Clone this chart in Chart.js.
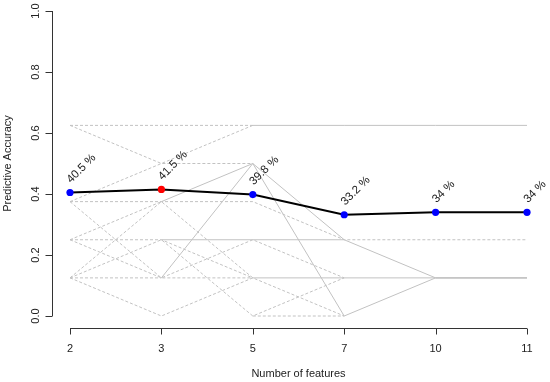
<!DOCTYPE html>
<html>
<head>
<meta charset="utf-8">
<script src="https://cdn.jsdelivr.net/npm/chart.js@4/dist/chart.umd.min.js"></script>
<style>
  html, body { margin: 0; padding: 0; background: #fff; }
  #wrap { width: 550px; height: 382px; }
</style>
</head>
<body>
<div id="wrap"><canvas id="c" width="550" height="382"></canvas></div>
<script>
// ---- data ----
const categories = ["2", "3", "5", "7", "10", "11"];
const meanAccuracy = [0.405, 0.415, 0.398, 0.332, 0.34, 0.34];
const meanPointColors = ["#0000ff", "#ff0000", "#0000ff", "#0000ff", "#0000ff", "#0000ff"];
const yTicks = [0, 0.2, 0.4, 0.6, 0.8, 1.0];

// individual runs drawn dashed
const dashedRun1  = [0.625, 0.625, 0.625, null, null, null];
const dashedRun2  = [0.625, 0.5,   0.625, null, null, null];
const dashedRun3  = [0.375, 0.5,   0.5,   null, null, null];
const dashedRun4  = [0.375, 0.375, 0.375, 0.25, 0.25, 0.25];
const dashedRun5  = [0.375, 0.125, 0.125, null, null, null];
const dashedRun6  = [0.25,  0.25,  0.125, null, null, null];
const dashedRun7  = [0.25,  0.375, 0.125, null, null, null];
const dashedRun8  = [0.25,  0.125, 0.25,  0.125, null, null];
const dashedRun9  = [0.125, 0.375, null,  null, null, null];
const dashedRun10 = [0.125, 0.25,  0,     0.125, null, null];
const dashedRun11 = [0.125, 0.125, null,  null, null, null];
const dashedRun12 = [0.125, 0,     0.125, 0,    null, null];
const dashedRun13 = [null,  null,  0,     0,    null, null];

// individual runs drawn solid
const solidRun1 = [null, null,  0.625, 0.625, 0.625, 0.625];
const solidRun2 = [null, 0.375, 0.5,   0.25,  0.125, 0.125];
const solidRun3 = [null, 0.125, 0.5,   0,     0.125, 0.125];
const solidRun4 = [null, 0.25,  0.25,  0.25,  null,  null];
const solidRun5 = [null, null,  0.125, 0.125, 0.125, 0.125];

const dashedRuns = [dashedRun1, dashedRun2, dashedRun3, dashedRun4, dashedRun5, dashedRun6, dashedRun7,
                    dashedRun8, dashedRun9, dashedRun10, dashedRun11, dashedRun12, dashedRun13];
const solidRuns = [solidRun1, solidRun2, solidRun3, solidRun4, solidRun5];

const GRAY = "#c2c2c2";
const FONT = "'Liberation Sans', Arial, sans-serif";

const datasets = [];
datasets.push({
  data: meanAccuracy,
  borderColor: "#000",
  borderWidth: 2,
  pointRadius: 3.6,
  pointBackgroundColor: meanPointColors,
  pointBorderColor: meanPointColors,
  pointBorderWidth: 0,
  tension: 0,
  order: 0,
  clip: false
});
dashedRuns.forEach(r => datasets.push({
  data: r, borderColor: GRAY, borderWidth: 1, borderDash: [3, 2], pointRadius: 0,
  tension: 0, order: 2, clip: false, spanGaps: false
}));
solidRuns.forEach(r => datasets.push({
  data: r, borderColor: GRAY, borderWidth: 1, pointRadius: 0,
  tension: 0, order: 1, clip: false, spanGaps: false
}));

const axesPlugin = {
  id: "rAxes",
  afterDraw(chart) {
    const { ctx, scales: { x, y } } = chart;
    ctx.save();
    ctx.strokeStyle = "#333";
    ctx.fillStyle = "#222";
    ctx.lineWidth = 1;
    ctx.font = "11px " + FONT;

    // y axis
    const yAxisX = Math.round(x.left - 18) + 0.5;
    const y0 = y.getPixelForValue(yTicks[0]);
    const y1 = y.getPixelForValue(yTicks[yTicks.length - 1]);
    ctx.beginPath();
    ctx.moveTo(yAxisX, y0); ctx.lineTo(yAxisX, y1);
    yTicks.forEach(v => {
      const py = Math.round(y.getPixelForValue(v)) + 0.5;
      ctx.moveTo(yAxisX, py); ctx.lineTo(yAxisX - 7, py);
    });
    ctx.stroke();
    yTicks.forEach(v => {
      const py = y.getPixelForValue(v);
      ctx.save();
      ctx.translate(yAxisX - 17, py);
      ctx.rotate(-Math.PI / 2);
      ctx.textAlign = "center";
      ctx.textBaseline = "middle";
      ctx.fillText(v.toFixed(1), 0, 0);
      ctx.restore();
    });
    ctx.save();
    ctx.translate(8, (y0 + y1) / 2);
    ctx.rotate(-Math.PI / 2);
    ctx.textAlign = "center";
    ctx.textBaseline = "middle";
    ctx.fillText("Predictive Accuracy", 0, 0);
    ctx.restore();

    // x axis
    const xAxisY = Math.round(y0 + 12) + 0.5;
    const xa = x.getPixelForValue(0);
    const xb = x.getPixelForValue(categories.length - 1);
    ctx.beginPath();
    ctx.moveTo(xa, xAxisY); ctx.lineTo(xb, xAxisY);
    categories.forEach((c, i) => {
      const px = Math.round(x.getPixelForValue(i)) + 0.5;
      ctx.moveTo(px, xAxisY); ctx.lineTo(px, xAxisY + 6);
    });
    ctx.stroke();
    ctx.textAlign = "center";
    ctx.textBaseline = "middle";
    categories.forEach((c, i) => {
      ctx.fillText(c, x.getPixelForValue(i), xAxisY + 20.5);
    });
    ctx.fillText("Number of features", (xa + xb) / 2, xAxisY + 45);

    // value labels on the mean line
    const meta = chart.getDatasetMeta(0);
    ctx.font = "11.5px " + FONT;
    ctx.fillStyle = "#222";
    ctx.textAlign = "left";
    ctx.textBaseline = "alphabetic";
    meta.data.forEach((pt, i) => {
      const label = (Math.round(meanAccuracy[i] * 1000) / 10) + " %";
      ctx.save();
      ctx.translate(pt.x + 1, pt.y - 9);
      ctx.rotate(-Math.PI / 4);
      ctx.fillText(label, 0, 0);
      ctx.restore();
    });
    ctx.restore();
  }
};

new Chart(document.getElementById("c"), {
  type: "line",
  data: { labels: categories, datasets },
  options: {
    responsive: false,
    animation: false,
    layout: { padding: { left: 70, right: 23, top: 11, bottom: 66 } },
    plugins: { legend: { display: false }, tooltip: { enabled: false } },
    scales: {
      x: { type: "category", display: false, offset: false },
      y: { min: 0, max: 1, display: false }
    }
  },
  plugins: [axesPlugin]
});
</script>
</body>
</html>
